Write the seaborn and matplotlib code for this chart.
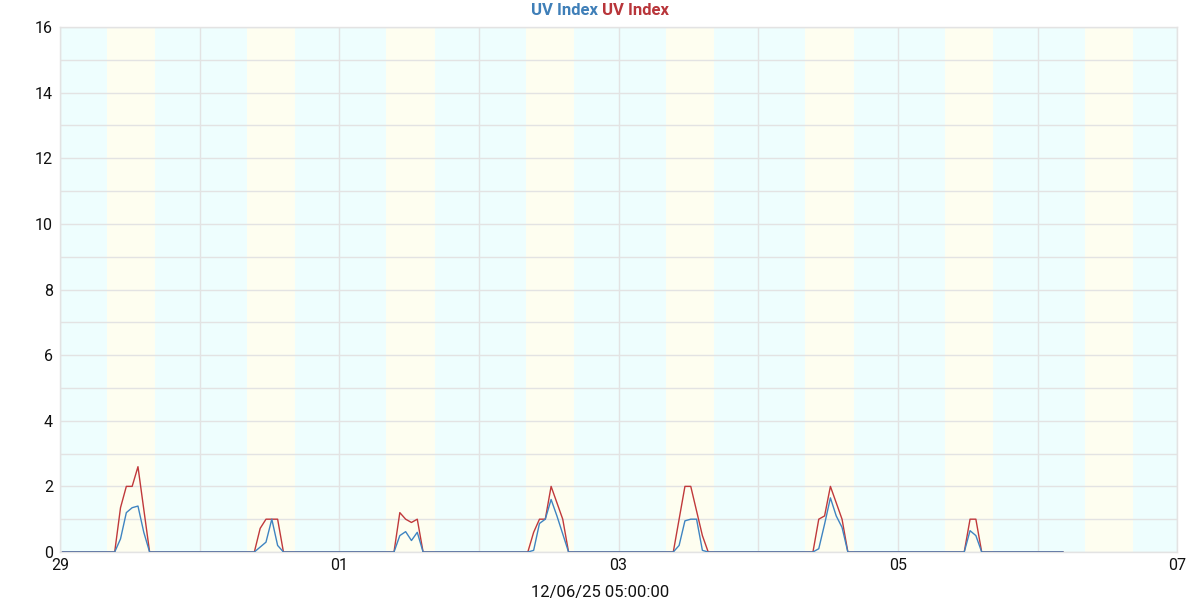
import numpy as np
import pandas as pd
import seaborn as sns
import matplotlib.pyplot as plt
import matplotlib.dates as mdates
from matplotlib.ticker import MultipleLocator

# hourly readings, taken at hh:24, Nov 29 00:24 .. Dec 6 04:24
start = '2025-11-29 00:24'
end = '2025-12-06 04:24'

# daytime peaks: (day, first hour of the peak), everything else is 0
peak_days = ['2025-11-29', '2025-11-30', '2025-12-01', '2025-12-02',
             '2025-12-03', '2025-12-04', '2025-12-05']
peak_hours = [9, 9, 9, 8, 9, 9, 11]
uv_red = [
    [0, 1.35, 2.0, 2.0, 2.6, 1.3, 0],
    [0, 0.72, 1.0, 1.0, 1.0, 0],
    [0, 1.2, 1.0, 0.9, 1.0, 0],
    [0, 0.6, 1.0, 1.0, 2.0, 1.5, 1.0, 0],
    [0, 1.0, 2.0, 2.0, 1.25, 0.5, 0],
    [0, 1.0, 1.1, 2.0, 1.5, 1.0, 0],
    [0, 1.0, 1.0, 0],
]
uv_blue = [
    [0, 0.4, 1.2, 1.35, 1.4, 0.6, 0],
    [0, 0.15, 0.3, 1.0, 0.2, 0],
    [0, 0.5, 0.62, 0.35, 0.6, 0],
    [0, 0.05, 0.87, 1.0, 1.6, 1.1, 0.55, 0],
    [0, 0.2, 0.95, 1.0, 1.0, 0.05, 0],
    [0, 0.1, 0.85, 1.65, 1.1, 0.75, 0],
    [0, 0.65, 0.5, 0],
]

# daylight shading (hours of the day)
sunrise = 8.1
sunset = 16.4

times = pd.date_range(start, end, freq='h')
red = pd.Series(0.0, index=times)
blue = pd.Series(0.0, index=times)
for d, h, r, b in zip(peak_days, peak_hours, uv_red, uv_blue):
    t0 = pd.Timestamp(d) + pd.Timedelta(hours=h, minutes=24)
    idx = pd.date_range(t0, periods=len(r), freq='h')
    red[idx] = r
    blue[idx] = b

df = pd.DataFrame({'time': times, 'red': red.values, 'blue': blue.values})

sns.set_style('white')
plt.rcParams['font.family'] = ['Roboto', 'DejaVu Sans']

fig = plt.figure(figsize=(12, 6), dpi=100)
ax = fig.add_axes([0.05, 0.08, 0.931, 0.875])
ax.set_facecolor('#eefefe')

x0 = pd.Timestamp('2025-11-29')
x1 = pd.Timestamp('2025-12-07')
for k in range(9):
    day = x0 + pd.Timedelta(days=k)
    ax.axvspan(day + pd.Timedelta(hours=sunrise), day + pd.Timedelta(hours=sunset),
               color='#fefef0', lw=0, zorder=0)

sns.lineplot(data=df, x='time', y='red', ax=ax, color='#c0393b', linewidth=1.0, zorder=3)
sns.lineplot(data=df, x='time', y='blue', ax=ax, color='#3f84c1', linewidth=1.0, zorder=4)

ax.set_xlim(x0, x1)
ax.set_ylim(0, 16)
ax.xaxis.set_major_locator(mdates.DayLocator(bymonthday=[29, 1, 3, 5, 7]))
ax.xaxis.set_minor_locator(mdates.DayLocator())
ax.xaxis.set_major_formatter(mdates.DateFormatter('%d'))
ax.yaxis.set_major_locator(MultipleLocator(2))
ax.yaxis.set_minor_locator(MultipleLocator(1))
ax.grid(which='both', color='#e3e3e3', linewidth=1.0, zorder=1)
ax.set_axisbelow(True)
ax.tick_params(which='both', length=0, labelsize=11.5, colors='#111111')
ax.tick_params(axis='x', pad=4)
ax.tick_params(axis='y', pad=5)
for s in ax.spines.values():
    s.set_color('#e3e3e3')
    s.set_linewidth(1.0)

ax.set_xlabel('')
ax.set_ylabel('')
fig.text(0.5, 0.013, '12/06/25 05:00:00', fontsize=12, color='#111111',
         ha='center', va='center')

fig.text(0.4985, 0.983, 'UV Index', color='#3f7fb8', fontsize=12,
         fontweight='bold', ha='right', va='center')
fig.text(0.5015, 0.983, 'UV Index', color='#b8353a', fontsize=12,
         fontweight='bold', ha='left', va='center')

fig.savefig('out.png', dpi=100)
